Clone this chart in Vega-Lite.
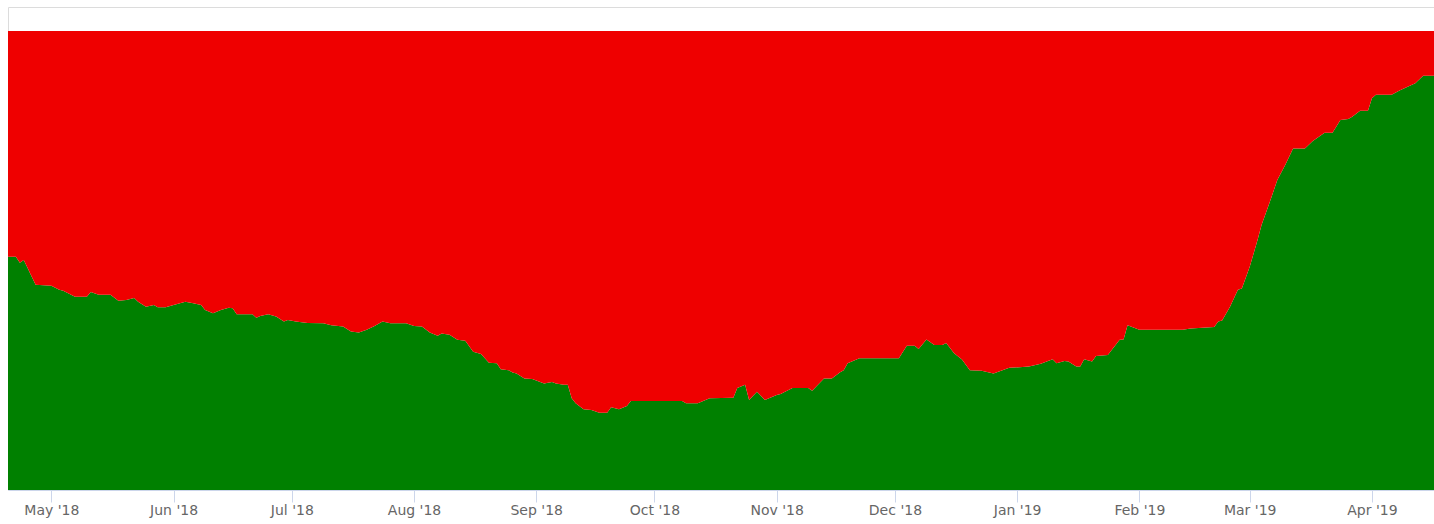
{
  "$schema": "https://vega.github.io/schema/vega-lite/v6.json",
  "autosize": {"type": "none"},
  "padding": {"left": 8, "top": 7, "right": 0, "bottom": 34},
  "width": 1427,
  "height": 483,
  "background": "#ffffff",
  "config": {
    "view": {"stroke": "#dcdcdc", "strokeWidth": 1},
    "axis": {"labelFont": "DejaVu Sans", "labelFontSize": 14, "labelColor": "#666666"}
  },
  "data": {
    "format": {"parse": {"date": "utc:'%Y-%m-%d'"}},
    "values": [
      {"date": "2018-04-20", "green": 50.8, "red": 49.2},
      {"date": "2018-04-22", "green": 50.8, "red": 49.2},
      {"date": "2018-04-23", "green": 49.5, "red": 50.5},
      {"date": "2018-04-24", "green": 50.1, "red": 49.9},
      {"date": "2018-04-27", "green": 44.7, "red": 55.3},
      {"date": "2018-05-01", "green": 44.5, "red": 55.5},
      {"date": "2018-05-03", "green": 43.6, "red": 56.4},
      {"date": "2018-05-04", "green": 43.4, "red": 56.6},
      {"date": "2018-05-07", "green": 42.1, "red": 57.9},
      {"date": "2018-05-10", "green": 42.1, "red": 57.9},
      {"date": "2018-05-11", "green": 43.1, "red": 56.9},
      {"date": "2018-05-13", "green": 42.5, "red": 57.5},
      {"date": "2018-05-16", "green": 42.5, "red": 57.5},
      {"date": "2018-05-18", "green": 41.2, "red": 58.8},
      {"date": "2018-05-20", "green": 41.4, "red": 58.6},
      {"date": "2018-05-22", "green": 41.8, "red": 58.2},
      {"date": "2018-05-23", "green": 41.0, "red": 59.0},
      {"date": "2018-05-25", "green": 39.9, "red": 60.1},
      {"date": "2018-05-27", "green": 40.3, "red": 59.7},
      {"date": "2018-05-28", "green": 39.8, "red": 60.2},
      {"date": "2018-05-30", "green": 39.8, "red": 60.2},
      {"date": "2018-06-01", "green": 40.3, "red": 59.7},
      {"date": "2018-06-04", "green": 41.0, "red": 59.0},
      {"date": "2018-06-06", "green": 40.7, "red": 59.3},
      {"date": "2018-06-08", "green": 40.3, "red": 59.7},
      {"date": "2018-06-09", "green": 39.2, "red": 60.8},
      {"date": "2018-06-11", "green": 38.5, "red": 61.5},
      {"date": "2018-06-13", "green": 39.2, "red": 60.8},
      {"date": "2018-06-15", "green": 39.7, "red": 60.3},
      {"date": "2018-06-16", "green": 39.6, "red": 60.4},
      {"date": "2018-06-17", "green": 38.3, "red": 61.7},
      {"date": "2018-06-19", "green": 38.3, "red": 61.7},
      {"date": "2018-06-21", "green": 38.3, "red": 61.7},
      {"date": "2018-06-22", "green": 37.5, "red": 62.5},
      {"date": "2018-06-23", "green": 37.9, "red": 62.1},
      {"date": "2018-06-25", "green": 38.3, "red": 61.7},
      {"date": "2018-06-27", "green": 37.8, "red": 62.2},
      {"date": "2018-06-29", "green": 36.7, "red": 63.3},
      {"date": "2018-06-30", "green": 37.0, "red": 63.0},
      {"date": "2018-07-02", "green": 36.7, "red": 63.3},
      {"date": "2018-07-05", "green": 36.4, "red": 63.6},
      {"date": "2018-07-09", "green": 36.3, "red": 63.7},
      {"date": "2018-07-11", "green": 35.9, "red": 64.1},
      {"date": "2018-07-14", "green": 35.6, "red": 64.4},
      {"date": "2018-07-16", "green": 34.5, "red": 65.5},
      {"date": "2018-07-18", "green": 34.3, "red": 65.7},
      {"date": "2018-07-20", "green": 34.9, "red": 65.1},
      {"date": "2018-07-22", "green": 35.7, "red": 64.3},
      {"date": "2018-07-24", "green": 36.7, "red": 63.3},
      {"date": "2018-07-26", "green": 36.3, "red": 63.7},
      {"date": "2018-07-30", "green": 36.3, "red": 63.7},
      {"date": "2018-08-01", "green": 35.7, "red": 64.3},
      {"date": "2018-08-03", "green": 35.6, "red": 64.4},
      {"date": "2018-08-05", "green": 34.3, "red": 65.7},
      {"date": "2018-08-07", "green": 33.6, "red": 66.4},
      {"date": "2018-08-08", "green": 34.1, "red": 65.9},
      {"date": "2018-08-10", "green": 33.8, "red": 66.2},
      {"date": "2018-08-12", "green": 32.7, "red": 67.3},
      {"date": "2018-08-14", "green": 32.5, "red": 67.5},
      {"date": "2018-08-16", "green": 30.1, "red": 69.9},
      {"date": "2018-08-18", "green": 29.6, "red": 70.4},
      {"date": "2018-08-20", "green": 27.7, "red": 72.3},
      {"date": "2018-08-22", "green": 27.6, "red": 72.4},
      {"date": "2018-08-23", "green": 26.3, "red": 73.7},
      {"date": "2018-08-25", "green": 26.1, "red": 73.9},
      {"date": "2018-08-26", "green": 25.6, "red": 74.4},
      {"date": "2018-08-27", "green": 25.4, "red": 74.6},
      {"date": "2018-08-29", "green": 24.3, "red": 75.7},
      {"date": "2018-08-31", "green": 24.2, "red": 75.8},
      {"date": "2018-09-03", "green": 23.2, "red": 76.8},
      {"date": "2018-09-05", "green": 23.5, "red": 76.5},
      {"date": "2018-09-06", "green": 23.2, "red": 76.8},
      {"date": "2018-09-08", "green": 22.9, "red": 77.1},
      {"date": "2018-09-09", "green": 22.9, "red": 77.1},
      {"date": "2018-09-10", "green": 20.0, "red": 80.0},
      {"date": "2018-09-11", "green": 18.9, "red": 81.1},
      {"date": "2018-09-13", "green": 17.6, "red": 82.4},
      {"date": "2018-09-15", "green": 17.4, "red": 82.6},
      {"date": "2018-09-17", "green": 16.8, "red": 83.2},
      {"date": "2018-09-19", "green": 16.8, "red": 83.2},
      {"date": "2018-09-20", "green": 18.0, "red": 82.0},
      {"date": "2018-09-22", "green": 17.6, "red": 82.4},
      {"date": "2018-09-24", "green": 18.3, "red": 81.7},
      {"date": "2018-09-25", "green": 19.4, "red": 80.6},
      {"date": "2018-10-08", "green": 19.4, "red": 80.6},
      {"date": "2018-10-09", "green": 18.9, "red": 81.1},
      {"date": "2018-10-12", "green": 18.9, "red": 81.1},
      {"date": "2018-10-15", "green": 20.0, "red": 80.0},
      {"date": "2018-10-21", "green": 20.1, "red": 79.9},
      {"date": "2018-10-22", "green": 22.2, "red": 77.8},
      {"date": "2018-10-24", "green": 22.9, "red": 77.1},
      {"date": "2018-10-25", "green": 19.6, "red": 80.4},
      {"date": "2018-10-27", "green": 21.4, "red": 78.6},
      {"date": "2018-10-29", "green": 19.6, "red": 80.4},
      {"date": "2018-11-01", "green": 20.7, "red": 79.3},
      {"date": "2018-11-02", "green": 20.9, "red": 79.1},
      {"date": "2018-11-05", "green": 22.2, "red": 77.8},
      {"date": "2018-11-09", "green": 22.2, "red": 77.8},
      {"date": "2018-11-10", "green": 21.6, "red": 78.4},
      {"date": "2018-11-13", "green": 24.3, "red": 75.7},
      {"date": "2018-11-15", "green": 24.3, "red": 75.7},
      {"date": "2018-11-17", "green": 25.6, "red": 74.4},
      {"date": "2018-11-18", "green": 26.1, "red": 73.9},
      {"date": "2018-11-19", "green": 27.6, "red": 72.4},
      {"date": "2018-11-22", "green": 28.7, "red": 71.3},
      {"date": "2018-12-02", "green": 28.7, "red": 71.3},
      {"date": "2018-12-04", "green": 31.4, "red": 68.6},
      {"date": "2018-12-06", "green": 31.4, "red": 68.6},
      {"date": "2018-12-07", "green": 30.7, "red": 69.3},
      {"date": "2018-12-09", "green": 32.8, "red": 67.2},
      {"date": "2018-12-11", "green": 31.6, "red": 68.4},
      {"date": "2018-12-13", "green": 31.6, "red": 68.4},
      {"date": "2018-12-14", "green": 32.0, "red": 68.0},
      {"date": "2018-12-16", "green": 29.8, "red": 70.2},
      {"date": "2018-12-18", "green": 28.4, "red": 71.6},
      {"date": "2018-12-20", "green": 26.1, "red": 73.9},
      {"date": "2018-12-23", "green": 26.0, "red": 74.0},
      {"date": "2018-12-26", "green": 25.4, "red": 74.6},
      {"date": "2018-12-30", "green": 26.6, "red": 73.4},
      {"date": "2019-01-04", "green": 26.9, "red": 73.1},
      {"date": "2019-01-07", "green": 27.5, "red": 72.5},
      {"date": "2019-01-10", "green": 28.5, "red": 71.5},
      {"date": "2019-01-11", "green": 27.6, "red": 72.4},
      {"date": "2019-01-13", "green": 28.1, "red": 71.9},
      {"date": "2019-01-14", "green": 28.0, "red": 72.0},
      {"date": "2019-01-16", "green": 26.9, "red": 73.1},
      {"date": "2019-01-17", "green": 26.9, "red": 73.1},
      {"date": "2019-01-18", "green": 28.5, "red": 71.5},
      {"date": "2019-01-20", "green": 28.0, "red": 72.0},
      {"date": "2019-01-21", "green": 29.2, "red": 70.8},
      {"date": "2019-01-24", "green": 29.4, "red": 70.6},
      {"date": "2019-01-27", "green": 32.7, "red": 67.3},
      {"date": "2019-01-28", "green": 32.8, "red": 67.2},
      {"date": "2019-01-29", "green": 35.9, "red": 64.1},
      {"date": "2019-02-01", "green": 34.9, "red": 65.1},
      {"date": "2019-02-12", "green": 34.9, "red": 65.1},
      {"date": "2019-02-14", "green": 35.2, "red": 64.8},
      {"date": "2019-02-20", "green": 35.5, "red": 64.5},
      {"date": "2019-02-21", "green": 36.7, "red": 63.3},
      {"date": "2019-02-22", "green": 36.9, "red": 63.1},
      {"date": "2019-02-24", "green": 39.9, "red": 60.1},
      {"date": "2019-02-26", "green": 43.6, "red": 56.4},
      {"date": "2019-02-27", "green": 43.9, "red": 56.1},
      {"date": "2019-03-01", "green": 48.6, "red": 51.4},
      {"date": "2019-03-03", "green": 54.5, "red": 45.5},
      {"date": "2019-03-04", "green": 57.7, "red": 42.3},
      {"date": "2019-03-06", "green": 62.5, "red": 37.5},
      {"date": "2019-03-08", "green": 67.5, "red": 32.5},
      {"date": "2019-03-10", "green": 70.8, "red": 29.2},
      {"date": "2019-03-12", "green": 74.4, "red": 25.6},
      {"date": "2019-03-15", "green": 74.4, "red": 25.6},
      {"date": "2019-03-17", "green": 76.0, "red": 24.0},
      {"date": "2019-03-20", "green": 77.8, "red": 22.2},
      {"date": "2019-03-22", "green": 77.8, "red": 22.2},
      {"date": "2019-03-24", "green": 80.6, "red": 19.4},
      {"date": "2019-03-26", "green": 80.8, "red": 19.2},
      {"date": "2019-03-27", "green": 81.3, "red": 18.7},
      {"date": "2019-03-29", "green": 82.6, "red": 17.4},
      {"date": "2019-03-31", "green": 82.6, "red": 17.4},
      {"date": "2019-04-01", "green": 85.3, "red": 14.7},
      {"date": "2019-04-02", "green": 86.1, "red": 13.9},
      {"date": "2019-04-06", "green": 86.1, "red": 13.9},
      {"date": "2019-04-08", "green": 87.0, "red": 13.0},
      {"date": "2019-04-12", "green": 88.6, "red": 11.4},
      {"date": "2019-04-14", "green": 90.2, "red": 9.8},
      {"date": "2019-04-17", "green": 90.2, "red": 9.8}
    ]
  },
  "transform": [{"fold": ["green", "red"], "as": ["series", "value"]}],
  "mark": {"type": "area", "interpolate": "linear"},
  "encoding": {
    "x": {
      "field": "date",
      "type": "temporal",
      "scale": {
        "type": "utc",
        "domain": [
          {"year": 2018, "month": 4, "date": 20, "utc": true},
          {"year": 2019, "month": 4, "date": 17, "utc": true}
        ]
      },
      "axis": {
        "title": null,
        "grid": false,
        "tickCount": {"interval": "month", "step": 1},
        "labelExpr": "utcFormat(datum.value, \"%b '%y\")",
        "labelFlush": false,
        "labelOverlap": false,
        "domainColor": "#ccd6eb",
        "tickColor": "#ccd6eb",
        "tickSize": 12,
        "labelPadding": 1
      }
    },
    "y": {
      "field": "value",
      "type": "quantitative",
      "stack": "zero",
      "scale": {"domain": [0, 105.2], "nice": false},
      "axis": null
    },
    "color": {
      "field": "series",
      "type": "nominal",
      "scale": {"domain": ["green", "red"], "range": ["#008000", "#ef0000"]},
      "legend": null
    },
    "order": {"field": "series", "sort": "ascending"}
  }
}
